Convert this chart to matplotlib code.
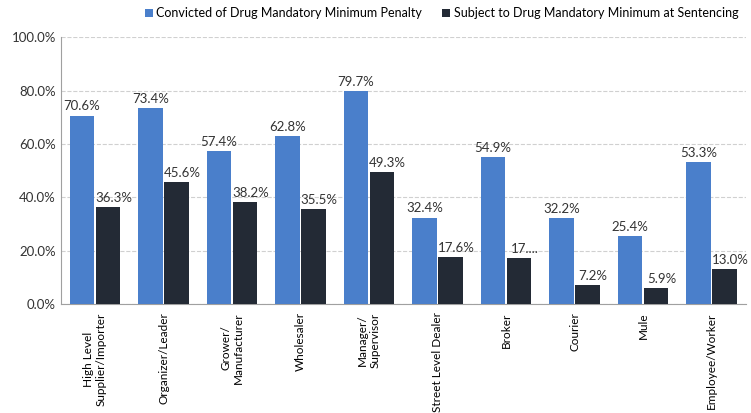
import numpy as np
import matplotlib.pyplot as plt
from matplotlib.ticker import PercentFormatter

plt.rcParams['font.family'] = ['Lato', 'DejaVu Sans']

categories = ['High Level\nSupplier/Importer', 'Organizer/Leader', 'Grower/\nManufacturer',
              'Wholesaler', 'Manager/\nSupervisor', 'Street Level Dealer', 'Broker',
              'Courier', 'Mule', 'Employee/Worker']
convicted = [70.6, 73.4, 57.4, 62.8, 79.7, 32.4, 54.9, 32.2, 25.4, 53.3]
subject = [36.3, 45.6, 38.2, 35.5, 49.3, 17.6, 17.3, 7.2, 5.9, 13.0]
subject_labels = ['36.3%', '45.6%', '38.2%', '35.5%', '49.3%', '17.6%', '17....',
                  '7.2%', '5.9%', '13.0%']

blue = '#4a7fcb'
dark = '#232a35'

fig = plt.figure(figsize=(7.51, 4.13), dpi=100)
ax = fig.add_axes([0.081, 0.264, 0.912, 0.646])

x = np.arange(len(categories))
w = 0.36
b1 = ax.bar(x - w / 2 - 0.01, convicted, w, color=blue,
            label='Convicted of Drug Mandatory Minimum Penalty', zorder=3)
b2 = ax.bar(x + w / 2 + 0.01, subject, w, color=dark,
            label='Subject to Drug Mandatory Minimum at Sentencing', zorder=3)

for r, v in zip(b1, convicted):
    ax.text(r.get_x() + r.get_width() / 2, v + 1.2, f'{v:.1f}%', ha='center', va='bottom',
            fontsize=9.5, color='#333333')
for r, v, s in zip(b2, subject, subject_labels):
    ax.text(r.get_x() + r.get_width() / 2 + 0.08, v + 1.2, s, ha='center', va='bottom',
            fontsize=9.5, color='#333333')

ax.set_xlim(-0.5, len(categories) - 0.5)
ax.set_ylim(0, 100)
ax.set_yticks(np.arange(0, 101, 20))
ax.yaxis.set_major_formatter(PercentFormatter(decimals=1))
ax.set_xticks(x)
ax.set_xticklabels(categories, rotation=90, ha='center', va='top', fontsize=8.5,
                   multialignment='center')
ax.tick_params(axis='x', length=0, pad=6)
ax.tick_params(axis='y', length=0, labelsize=9.5, colors='#333333')
ax.grid(axis='y', linestyle='--', color='#d0d0d0', linewidth=0.8, zorder=0)
for s in ['top', 'right']:
    ax.spines[s].set_visible(False)
for s in ['left', 'bottom']:
    ax.spines[s].set_color('#a0a0a0')

fig.legend(loc='upper right', bbox_to_anchor=(0.998, 1.01), ncol=2, frameon=False,
           fontsize=9, handlelength=0.6, handleheight=0.6, handletextpad=0.3,
           columnspacing=1.6)

fig.savefig('out.png', dpi=100)
